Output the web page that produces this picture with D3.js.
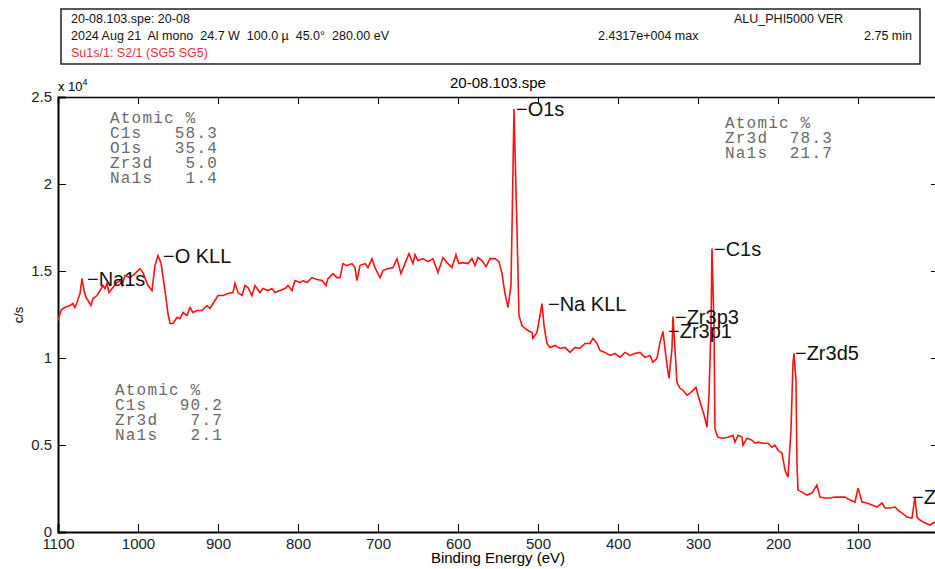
<!DOCTYPE html>
<html>
<head>
<meta charset="utf-8">
<script src="https://cdnjs.cloudflare.com/ajax/libs/d3/7.8.5/d3.min.js"></script>
<style>
  body { margin: 0; background: #fff; }
  svg { display: block; font-family: "Liberation Sans", Arial, sans-serif; }
  .axis path, .axis line { stroke: #000; }
  .axis text { font-size: 15px; fill: #222; }
  .atomic text { font-family: "Liberation Mono", "Courier New", monospace; font-size: 16px; letter-spacing: 1.2px; fill: #6a6a6a; white-space: pre; }
  .peak { font-size: 20px; fill: #111; }
  .header text { font-size: 12.5px; fill: #111; white-space: pre; }
</style>
</head>
<body>
<svg width="935" height="569"></svg>
<script>
// survey spectrum (binding energy in eV, counts in c/s)
var bindingEnergy = [1100, 1096.3, 1093.8, 1088.8, 1085, 1081.3, 1078.8, 1076.3, 1072.5, 1070,
  1067.5, 1065, 1062.5, 1058.8, 1056.3, 1051.3, 1047.5, 1043.8, 1041.3, 1038.8,
  1036.3, 1031.3, 1026.3, 1022.5, 1020, 1016.3, 1010, 1003.8, 997.5, 993.8,
  987.5, 982.5, 978.8, 975, 971.3, 966.3, 962.5, 960, 956.3, 951.3,
  947.5, 943.8, 938.8, 935, 931.3, 926.3, 920, 913.8, 910, 903.8,
  900, 893.8, 887.5, 881.3, 878.8, 875, 870, 866.3, 862.5, 857.5,
  853.8, 847.5, 843.8, 837.5, 832.5, 828.8, 822.5, 816.3, 812.5, 807.5,
  803.8, 797.5, 793.8, 788.8, 782.5, 776.3, 770, 765, 762.5, 756.3,
  751.3, 747.5, 743.8, 738.8, 732.5, 728.8, 726.3, 722.5, 716.3, 712.5,
  707.5, 703.8, 697.5, 693.8, 687.5, 681.3, 676.3, 671.3, 666.3, 661.3,
  656.3, 653.8, 650, 643.8, 637.5, 631.3, 625, 618.8, 613.8, 607.5,
  602.5, 598.8, 593.8, 587.5, 582.5, 578.8, 575, 570, 565, 560,
  553.8, 548.8, 545, 541.3, 537.5, 533.8, 532.5, 530, 527.5, 526.3,
  523.8, 520, 516.3, 512.5, 507.5, 506.3, 501.3, 497.5, 495, 492.5,
  488.8, 485, 478.8, 472.5, 466.3, 460, 453.8, 447.5, 441.3, 435,
  431.3, 426.3, 422.5, 416.3, 410, 403.8, 397.5, 391.3, 385, 378.8,
  372.5, 366.3, 360, 356.3, 351.3, 347.5, 343.8, 341.3, 337.5, 336.3,
  332.5, 331.3, 328.8, 326.3, 322.5, 318.8, 313.8, 310, 306.3, 302.5,
  300, 295, 291.3, 288.8, 286.3, 283.8, 282.5, 280, 278.8, 276.3,
  275, 268.8, 262.5, 256.3, 253.8, 250, 245, 243.8, 238.8, 232.5,
  228.8, 225, 218.8, 212.5, 207.5, 203.8, 200, 195, 191.3, 187.5,
  183.8, 181.3, 180, 177.5, 176.3, 175, 170, 163.8, 157.5, 151.3,
  147.5, 141.3, 135, 128.8, 122.5, 116.3, 110, 103.8, 100, 95,
  88.8, 82.5, 76.3, 70, 66.3, 60, 53.8, 50, 45, 38.8,
  32.5, 28.8, 26.3, 22.5, 16.3, 10, 3.8];

var counts = [12156, 12729, 12844, 12959, 13016, 13131, 12902, 13188, 13704, 14564,
  13876, 13475, 13303, 13016, 13418, 13590, 13876, 14163, 13991, 14278,
  13762, 14048, 14335, 14450, 14163, 14737, 14622, 14851, 15138, 14908,
  14163, 13876, 15310, 15883, 15482, 13876, 12557, 11984, 11984, 12328,
  12271, 12615, 12443, 12902, 12615, 12729, 12729, 13016, 12844, 13303,
  13590, 13590, 13704, 13762, 14278, 13762, 13590, 14163, 14048, 13590,
  14163, 13762, 13991, 13876, 13991, 13762, 13876, 13991, 14163, 13876,
  14450, 14335, 14450, 14335, 14622, 14507, 14450, 14163, 14564, 14851,
  14622, 14622, 15424, 15310, 15424, 15195, 14450, 15310, 15424, 15195,
  15711, 15195, 14622, 15023, 15138, 15195, 15711, 14851, 15424, 15998,
  15424, 15941, 15596, 15711, 15539, 15711, 14908, 15769, 15482, 15195,
  15941, 15424, 15482, 15424, 15711, 15310, 15769, 15596, 15252, 15711,
  15711, 15539, 14851, 13704, 12902, 14163, 17431, 24312, 19610, 17431,
  12443, 11869, 11697, 11583, 11468, 11124, 11468, 12443, 13131, 11869,
  10837, 10608, 10723, 10551, 10608, 10321, 10608, 10551, 10837, 10837,
  11124, 10837, 10436, 10321, 10149, 10264, 10035, 10321, 10149, 10264,
  10321, 10035, 10149, 9748, 9977, 10895, 11525, 10551, 9174, 8830,
  10551, 12385, 10551, 8601, 8257, 8142, 7856, 7970, 8142, 8314,
  7856, 7110, 6537, 6021, 7856, 11697, 16285, 11697, 5963, 5562,
  5447, 5390, 5447, 5562, 5161, 5562, 5447, 4989, 5390, 5275,
  5103, 5161, 5103, 5103, 4874, 4989, 4702, 4530, 3555, 3154,
  5849, 9690, 10264, 8716, 3956, 2408, 2294, 2122, 2236, 2695,
  2007, 1950, 1950, 2007, 2007, 2007, 1835, 1720, 2523, 1720,
  1663, 1548, 1434, 1663, 1376, 1376, 1434, 1261, 1089, 860,
  803, 2007, 860, 688, 516, 401, 573];

// peak markers: label energy and peak height
var peakNames = ["Na1s", "O KLL", "O1s", "Na KLL", "Zr3p1", "Zr3p3", "C1s", "Zr3d5", "Zr4p"];
var peakEnergy = [1063.8, 968.8, 527.5, 487.5, 337.5, 328.8, 280, 178.8, 32.5];
var peakCounts = [14564, 15883, 24312, 13131, 11525, 12385, 16285, 10264, 2007];

// atomic % tables
var atomicLeft = ["Atomic %", "C1s   58.3", "O1s   35.4", "Zr3d   5.0", "Na1s   1.4"];
var atomicRight = ["Atomic %", "Zr3d  78.3", "Na1s  21.7"];
var atomicLow = ["Atomic %", "C1s   90.2", "Zr3d   7.7", "Na1s   2.1"];

// ticks (y in units of 10^4)
var yTicks = [0, 5000, 10000, 15000, 20000, 25000];
var xTicks = [1100, 1000, 900, 800, 700, 600, 500, 400, 300, 200, 100];

var svg = d3.select("svg"),
  margin = { top: 97, right: -3, bottom: 37, left: 58 },
  width = svg.attr("width") - margin.left - margin.right,
  height = svg.attr("height") - margin.top - margin.bottom;

// header box
var header = svg.append("g").attr("class", "header");
header.append("rect")
  .attr("x", 61).attr("y", 9).attr("width", 859).attr("height", 55)
  .attr("fill", "none").attr("stroke", "#222").attr("stroke-width", 1.5);
header.append("text").attr("x", 71).attr("y", 23).text("20-08.103.spe: 20-08");
header.append("text").attr("x", 734).attr("y", 23).text("ALU_PHI5000 VER");
header.append("text").attr("x", 71).attr("y", 40).text("2024 Aug 21  Al mono  24.7 W  100.0 \u00b5  45.0\u00b0  280.00 eV");
header.append("text").attr("x", 598).attr("y", 40).text("2.4317e+004 max");
header.append("text").attr("x", 864).attr("y", 40).text("2.75 min");
header.append("text").attr("x", 71).attr("y", 57).style("fill", "#e8303a").text("Su1s/1: S2/1 (SG5 SG5)");

var g = svg.append("g").attr("transform", "translate(" + margin.left + "," + margin.top + ")");

// scales
var x = d3.scaleLinear().domain([1100, 0]).range([0, width]),
  y = d3.scaleLinear().domain([0, 25000]).range([height, 0]);

// clip
svg.append("defs").append("clipPath").attr("id", "clip")
  .append("rect").attr("width", width).attr("height", height);

// axes, ticks pointing inward
g.append("g")
  .attr("class", "axis axisx")
  .attr("transform", "translate(0," + height + ")")
  .call(d3.axisBottom(x).tickValues(xTicks).tickSize(-8).tickPadding(6).tickFormat(d3.format("d")))
  .call(a => a.select(".domain").attr("stroke-width", 2));

g.append("g")
  .attr("class", "axis")
  .call(d3.axisTop(x).tickValues(xTicks).tickSize(-7).tickFormat(""))
  .call(a => a.select(".domain").attr("stroke-width", 1.5));

g.append("g")
  .attr("class", "axis axisy")
  .call(d3.axisLeft(y).tickValues(yTicks).tickSize(-8).tickPadding(6).tickFormat(d => d / 10000))
  .call(a => a.select(".domain").attr("stroke-width", 2));

g.append("g")
  .attr("class", "axis")
  .attr("transform", "translate(" + width + ",0)")
  .call(d3.axisRight(y).tickValues(yTicks).tickSize(-7).tickFormat(""));

svg.selectAll(".axis text").attr("font-family", null).attr("font-size", null);

// spectrum line
var line = d3.line()
  .x(function(d, i) { return x(bindingEnergy[i]); })
  .y(function(d) { return y(d); });

g.append("path")
  .datum(counts)
  .attr("clip-path", "url(#clip)")
  .attr("d", line)
  .attr("fill", "none")
  .style("stroke", "#ff1010")
  .style("stroke-width", 1.6);

// peak labels
g.selectAll(".peak")
  .data(peakNames)
  .enter().append("text")
  .attr("class", "peak")
  .attr("x", (d, i) => x(peakEnergy[i]))
  .attr("y", (d, i) => y(peakCounts[i]) + 7)
  .text(d => "\u2212" + d);

// atomic % blocks
function atomic(lines, px, py) {
  svg.append("g").attr("class", "atomic")
    .selectAll("text").data(lines).enter().append("text")
    .attr("x", px)
    .attr("y", (d, i) => py + i * 15)
    .text(d => d);
}
atomic(atomicLeft, 110, 123);
atomic(atomicRight, 725, 128);
atomic(atomicLow, 115, 395);

// titles
svg.append("text").attr("x", 498).attr("y", 88).attr("text-anchor", "middle")
  .style("font-size", "15px").text("20-08.103.spe");

var ex = svg.append("text").attr("x", 58).attr("y", 91).style("font-size", "13px");
ex.append("tspan").text("x 10");
ex.append("tspan").attr("dy", -6).style("font-size", "9px").text("4");

svg.append("text").attr("x", 498).attr("y", 563).attr("text-anchor", "middle")
  .style("font-size", "15px").text("Binding Energy (eV)");

svg.append("text").attr("transform", "translate(23,315) rotate(-90)").attr("text-anchor", "middle")
  .style("font-size", "13px").text("c/s");
</script>
</body>
</html>
